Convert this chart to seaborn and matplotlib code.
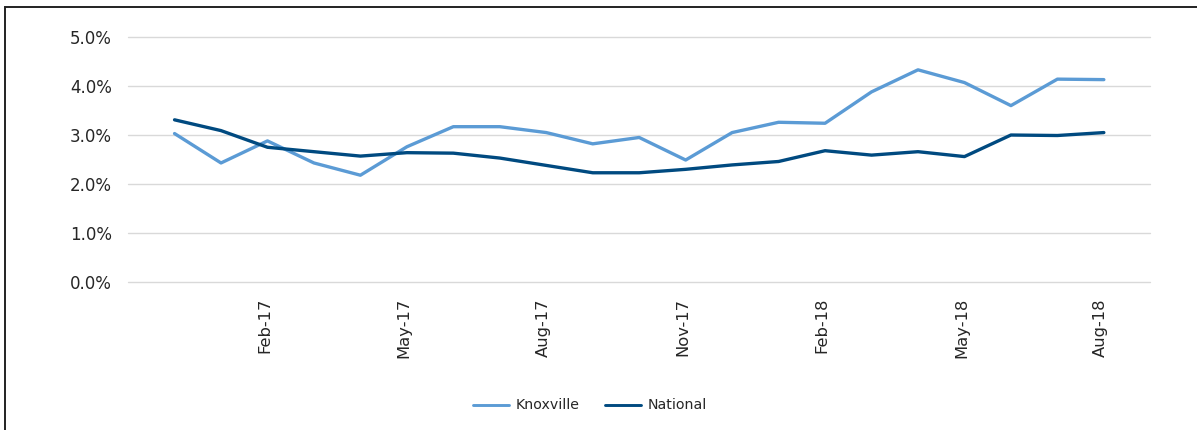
import matplotlib
matplotlib.use("Agg")
import matplotlib.pyplot as plt
from matplotlib.patches import Rectangle
from matplotlib.ticker import FuncFormatter
from matplotlib.transforms import ScaledTranslation
import seaborn as sns
import pandas as pd

months = ["Dec-16", "Jan-17", "Feb-17", "Mar-17", "Apr-17", "May-17", "Jun-17",
          "Jul-17", "Aug-17", "Sep-17", "Oct-17", "Nov-17", "Dec-17", "Jan-18",
          "Feb-18", "Mar-18", "Apr-18", "May-18", "Jun-18", "Jul-18", "Aug-18"]
knoxville = [3.03, 2.43, 2.88, 2.43, 2.18, 2.76, 3.17, 3.17, 3.05, 2.82, 2.95,
             2.49, 3.05, 3.26, 3.24, 3.88, 4.33, 4.07, 3.60, 4.14, 4.13]
national = [3.31, 3.09, 2.75, 2.66, 2.57, 2.64, 2.63, 2.53, 2.38, 2.23, 2.23,
            2.30, 2.39, 2.46, 2.68, 2.59, 2.66, 2.56, 3.00, 2.99, 3.05]
tick_labels = ["Feb-17", "May-17", "Aug-17", "Nov-17", "Feb-18", "May-18", "Aug-18"]

df = pd.DataFrame({"idx": list(range(len(months))) * 2,
                   "value": knoxville + national,
                   "series": ["Knoxville"] * len(months) + ["National"] * len(months)})

sns.set_theme(style="white")
plt.rcParams["font.family"] = ["DejaVu Sans"]

fig = plt.figure(figsize=(11.97, 4.30), dpi=100)
ax = fig.add_axes([0.107, 0.344, 0.854, 0.570])

sns.lineplot(data=df, x="idx", y="value", hue="series",
             palette={"Knoxville": "#5b9bd5", "National": "#004a80"},
             linewidth=2.4, ax=ax, legend=True)

ax.set_xlim(-1, 21)
ax.set_ylim(0, 5)
ax.set_yticks([0, 1, 2, 3, 4, 5])
ax.yaxis.set_major_formatter(FuncFormatter(lambda v, p: f"{v:.1f}%"))
ax.yaxis.grid(True, color="#d9d9d9", linewidth=1)
for gl in ax.yaxis.get_gridlines():
    gl.set_clip_on(False)
ax.set_axisbelow(True)
ax.set_xticks([months.index(t) for t in tick_labels])
ax.set_xticklabels(tick_labels, rotation=90)
ax.tick_params(axis="y", labelsize=12, colors="#262626", pad=11.5, length=0)
ax.tick_params(axis="x", labelsize=11.8, colors="#262626", pad=11.5, length=0)
shift = ScaledTranslation(-3 / 100, 0, fig.dpi_scale_trans)
for lbl in ax.get_xticklabels():
    lbl.set_transform(lbl.get_transform() + shift)
ax.set_xlabel("")
ax.set_ylabel("")
for s in ax.spines.values():
    s.set_visible(False)

handles, labels = ax.get_legend_handles_labels()
leg = ax.legend(handles, labels, loc="center", bbox_to_anchor=(0.493, 0.057),
                bbox_transform=fig.transFigure, ncol=2, frameon=False,
                fontsize=10.2, handlelength=2.55, columnspacing=1.75, handletextpad=0.5,
                labelcolor="#262626")
for h in leg.get_lines():
    h.set_linewidth(2.1)

fig.patches.append(Rectangle((5 / 1197, -0.1), 1.2, 1.1 - 7 / 430, transform=fig.transFigure,
                             fill=False, edgecolor="#222222", linewidth=1.4))

fig.savefig("out.png", dpi=100)
